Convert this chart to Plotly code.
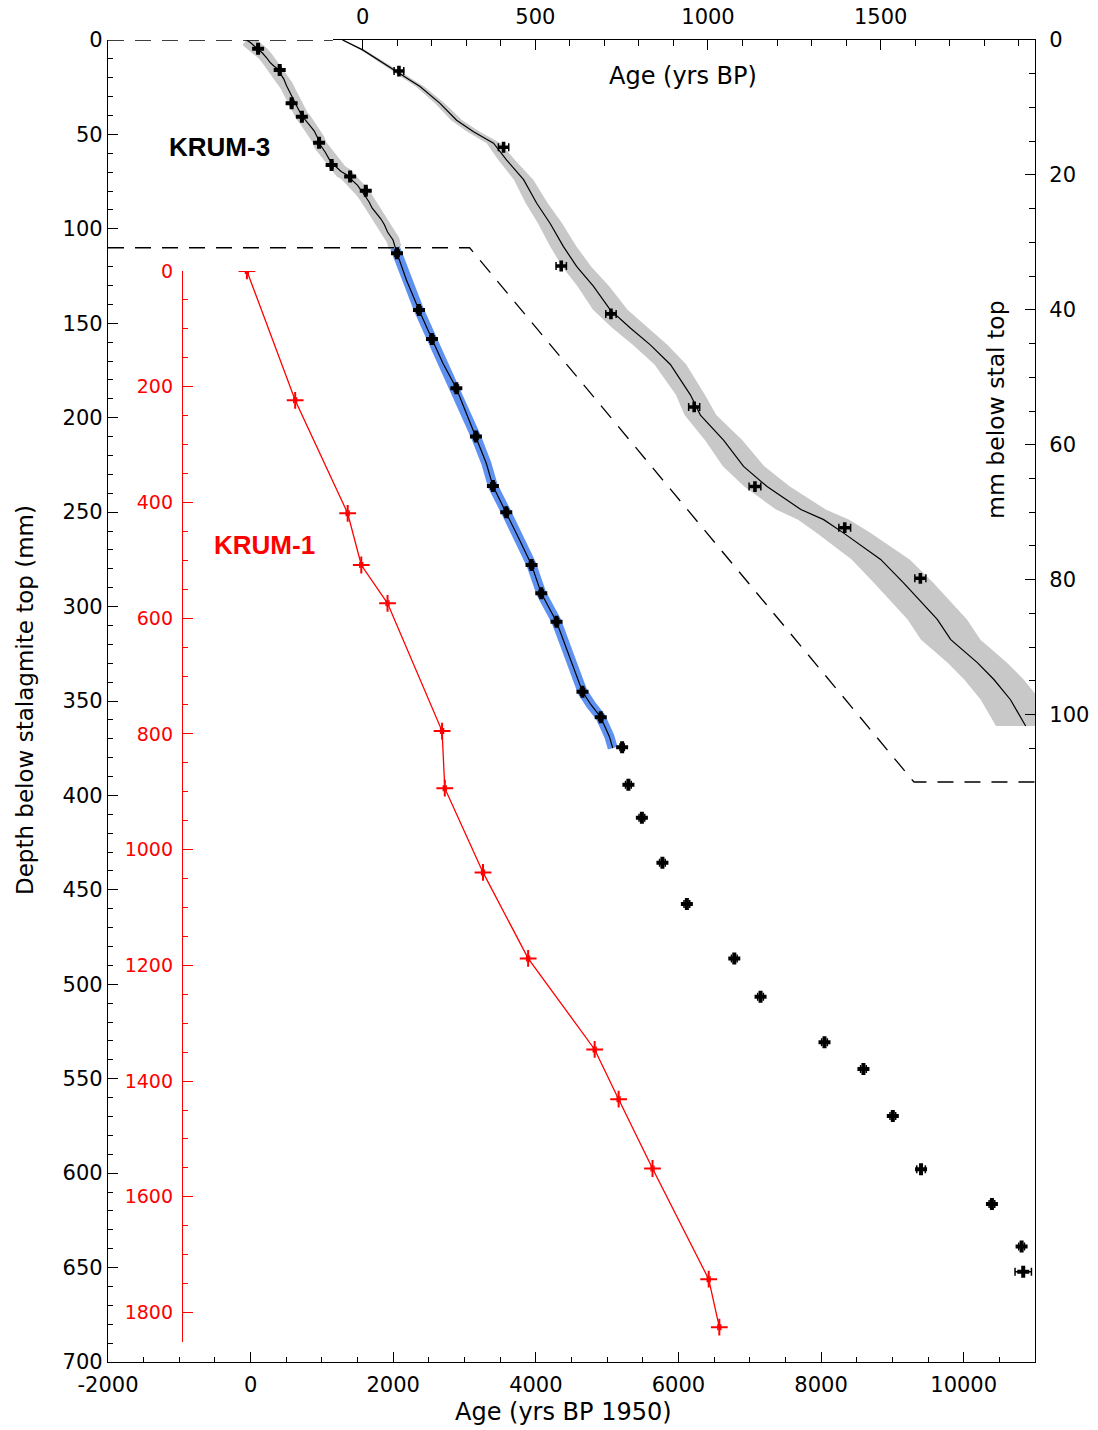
import plotly.graph_objects as go

# ---------------- KRUM-3 U-Th dates (age in yrs BP 1950, depth in mm) ----------------
k3_depth = [4.6, 15.9, 33.5, 40.6, 54.4, 66.2, 72.3, 79.8,
            112.9, 143.0, 158.3, 184.4, 210.0, 236.2, 250.1, 278.0, 293.0, 308.0,
            345.1, 358.6, 374.5, 394.3, 411.8, 435.6, 457.5, 486.4, 506.6, 530.7,
            544.8, 569.7, 598.0, 616.3, 638.9, 652.2]
k3_age = [105, 408, 575, 719, 960, 1136, 1396, 1615,
          2053, 2361, 2543, 2885, 3160, 3398, 3585, 3940, 4076, 4290,
          4654, 4910, 5210, 5298, 5487, 5775, 6118, 6783, 7151, 8048,
          8594, 9006, 9402, 10396, 10812, 10835]
k3_err = [14, 15, 15, 15, 16, 17, 17, 16,
          30, 30, 30, 30, 30, 30, 30, 30, 30, 30,
          30, 30, 30, 40, 40, 40, 40, 40, 40, 40,
          40, 40, 60, 40, 40, 115]

# ---------------- KRUM-3 age model (depth mm, age yrs BP) ----------------
k3_model_depth = [0, 1.5, 4.7, 6.9, 9.4, 11.9, 13.6, 15.3, 17.8, 20.7, 24.2, 27.2,
                  30.6, 33.6, 36.5, 40.0, 42.7, 45.2, 48.1, 52.6, 55.6, 59.3, 63.2,
                  66.2, 69.6, 71.1, 73.1, 77.0, 80.5, 83.2, 85.9, 88.9, 92.3, 94.8,
                  97.8, 101.7, 105.9, 110.0, 112.9, 127.1, 143.0, 158.3, 171.2,
                  184.4, 197.7, 210.0, 224.1, 236.2, 250.1, 264.7, 278.0, 293.0,
                  308.0, 326.5, 345.1, 352.1, 358.6, 368.9, 375.0]
k3_model_age = [-58, 1, 99, 166, 224, 272, 321, 379, 417, 466, 504, 543,
                581, 620, 668, 717, 775, 833, 891, 949, 978, 1045, 1103,
                1171, 1269, 1335, 1393, 1500, 1567, 1615, 1664, 1703, 1780, 1828,
                1876, 1920, 1997, 2025, 2053, 2185, 2361, 2543, 2697,
                2885, 3025, 3160, 3305, 3398, 3585, 3772, 3940, 4076,
                4290, 4472, 4654, 4776, 4910, 5032, 5078]
# half-width (yrs) of the uncertainty envelope for the upper 101.7 mm
k3_band_half = [5, 6, 10, 12, 14, 16, 18, 20, 24, 28, 32, 35,
                38, 42, 46, 50, 52, 50, 46, 42, 46, 54, 60,
                66, 72, 74, 78, 84, 86, 86, 86, 86, 86, 86,
                86, 86]

# ---------------- KRUM-1 (red) ----------------
k1_depth = [0, 223.5, 418.8, 508.2, 574.4, 795.2, 893.9, 1039.4, 1188.0,
            1345.4, 1431.3, 1551.1, 1742.4, 1825.4]
k1_age = [-52, 625, 1361, 1552, 1920, 2685, 2723, 3259, 3892,
          4825, 5161, 5636, 6424, 6573]

# bottom axis tick labels
age_ticks = [-2000, 0, 2000, 4000, 6000, 8000, 10000]
age_tick_text = ["-2000", "0", "2000", "4000", "6000", "8000", "10000"]

TOP_SECTION = 110.0          # mm shown in the enlarged panel
GRAY = "#c8c8c8"
BLUE = "#5f92f0"
RED = "#ff0000"
CLEAR = "rgba(0,0,0,0)"

fig = go.Figure()

# main panel: grey and blue envelopes of the age model
top_d = [d for d in k3_model_depth if d <= TOP_SECTION]
top_a = [a for d, a in zip(k3_model_depth, k3_model_age) if d <= TOP_SECTION]
low_d = [d for d in k3_model_depth if d >= TOP_SECTION - 2]
low_a = [a for d, a in zip(k3_model_depth, k3_model_age) if d >= TOP_SECTION - 2]

fig.add_trace(go.Scatter(x=top_a, y=top_d, mode="lines",
                         line=dict(color=GRAY, width=13), xaxis="x", yaxis="y"))
fig.add_trace(go.Scatter(x=low_a, y=low_d, mode="lines",
                         line=dict(color=BLUE, width=10), xaxis="x", yaxis="y"))
fig.add_trace(go.Scatter(x=k3_model_age, y=k3_model_depth, mode="lines",
                         line=dict(color="black", width=1.2), xaxis="x", yaxis="y"))
fig.add_trace(go.Scatter(
    x=k3_age, y=k3_depth, mode="markers", xaxis="x", yaxis="y",
    marker=dict(symbol="cross", size=10, color="black"),
    error_x=dict(type="data", array=k3_err, visible=True, color="black",
                 thickness=1.5, width=4)))

# KRUM-1 on its own depth scale
k1_err = [20] * len(k1_age)
fig.add_trace(go.Scatter(
    x=k1_age, y=k1_depth, mode="lines+markers", xaxis="x", yaxis="y3",
    line=dict(color=RED, width=1.3),
    marker=dict(symbol="cross-thin", size=12, color=RED, line=dict(color=RED, width=2)),
    error_x=dict(type="data", array=k1_err, visible=True, color=RED,
                 thickness=1.5, width=3)))

# enlarged panel: upper part of KRUM-3
n_in = len(k3_band_half)
in_d = k3_model_depth[:n_in]
in_a = k3_model_age[:n_in]
band_x = [a - h for a, h in zip(in_a, k3_band_half)] + \
         [a + h for a, h in zip(in_a[::-1], k3_band_half[::-1])]
band_y = in_d + in_d[::-1]
fig.add_trace(go.Scatter(x=band_x, y=band_y, mode="lines", fill="toself",
                         fillcolor=GRAY, line=dict(width=0, color=GRAY),
                         xaxis="x2", yaxis="y2"))
fig.add_trace(go.Scatter(x=in_a, y=in_d, mode="lines",
                         line=dict(color="black", width=1.2), xaxis="x2", yaxis="y2"))
sel = [i for i, d in enumerate(k3_depth) if d <= TOP_SECTION]
fig.add_trace(go.Scatter(
    x=[k3_age[i] for i in sel], y=[k3_depth[i] for i in sel], mode="markers",
    xaxis="x2", yaxis="y2",
    marker=dict(symbol="cross", size=9, color="black"),
    error_x=dict(type="data", array=[k3_err[i] for i in sel], visible=True,
                 color="black", thickness=1.5, width=4)))

# ---------------- axes ----------------
ax_common = dict(showgrid=False, zeroline=False, showline=True, linecolor="black",
                 linewidth=1.3, ticks="inside", tickcolor="black", tickwidth=1.2,
                 ticklen=10, automargin=False)

fig.update_layout(
    width=1098, height=1430,
    margin=dict(l=108, r=63, t=40, b=68, autoexpand=False),
    plot_bgcolor=CLEAR, paper_bgcolor="white", showlegend=False,
    font=dict(family="DejaVu Sans", size=21, color="black"),
    xaxis=dict(**ax_common, domain=[0, 1], anchor="y", range=[-2000, 11000],
               tickvals=age_ticks, ticktext=age_tick_text, ticklabelstandoff=4,
               minor=dict(tick0=0, dtick=500, ticks="inside", ticklen=5,
                          tickcolor="black", tickwidth=1.2)),
    yaxis=dict(**ax_common, domain=[0, 1], anchor="x", range=[700, 0],
               tick0=0, dtick=50, mirror=True,
               minor=dict(tick0=0, dtick=10, ticks="inside", ticklen=5,
                          tickcolor="black", tickwidth=1.2)),
    xaxis2=dict(**ax_common, domain=[0.2427, 1], anchor="y2", side="top",
                range=[-86, 1947], tick0=0, dtick=500, tickformat="d",
                ticklabelstandoff=6,
                minor=dict(tick0=0, dtick=100, ticks="inside", ticklen=6,
                           tickcolor="black", tickwidth=1.2)),
    yaxis2=dict(**ax_common, domain=[0.4387, 1], anchor="x2", side="right",
                range=[TOP_SECTION, 0], tick0=0, dtick=20, ticklabelstandoff=9,
                minor=dict(tick0=0, dtick=5, ticks="inside", ticklen=6,
                           tickcolor="black", tickwidth=1.2)),
    yaxis3=dict(showgrid=False, zeroline=False, showline=True, linecolor=RED,
                linewidth=1.3, ticks="inside", tickcolor=RED, tickwidth=1.2,
                ticklen=10, domain=[0.0151, 0.8253], anchor="free",
                position=0.0798, side="left", range=[1851, 0], tick0=0, dtick=200,
                tickformat="d", ticklabelstandoff=5, automargin=False,
                tickfont=dict(color=RED, size=19),
                minor=dict(tick0=0, dtick=50, ticks="inside", ticklen=5,
                           tickcolor=RED, tickwidth=1.2)),
)

# connector lines between the main panel and the enlarged panel
dash = "16px,11px"
fig.add_shape(type="line", xref="x", yref="y", x0=-2000, y0=0, x1=1153, y1=0,
              line=dict(color="black", width=1.3, dash=dash))
fig.add_shape(type="path", xref="x", yref="y",
              path="M -2000,110 L 3071,110 L 9303,392.9 L 11000,392.9",
              line=dict(color="black", width=1.3, dash=dash))

# labels
fig.add_annotation(x=-430, y=56.7, xref="x", yref="y", text="<b>KRUM-3</b>",
                   showarrow=False, font=dict(family="Liberation Sans", size=26,
                                              color="black"))
fig.add_annotation(x=200, y=267.4, xref="x", yref="y", text="<b>KRUM-1</b>",
                   showarrow=False, font=dict(family="Liberation Sans", size=26,
                                              color=RED))
fig.add_annotation(x=928, y=5.3, xref="x2", yref="y2", text="Age (yrs BP)",
                   showarrow=False, font=dict(size=24))
fig.add_annotation(x=(996 - 108) / 927, y=(1362 - 410) / 1322, xref="paper",
                   yref="paper", xanchor="center", yanchor="middle",
                   text="mm below stal top", textangle=-90,
                   showarrow=False, font=dict(size=23.5))
fig.add_annotation(x=(25 - 108) / 927, y=(1362 - 700) / 1322, xref="paper",
                   yref="paper", xanchor="center", yanchor="middle",
                   text="Depth below stalagmite top (mm)",
                   textangle=-90, showarrow=False, font=dict(size=23))
fig.add_annotation(x=(563 - 108) / 927, y=(1362 - 1412) / 1322, xref="paper",
                   yref="paper", xanchor="center", yanchor="middle",
                   text="Age (yrs BP 1950)", showarrow=False,
                   font=dict(size=24))

fig.write_html("out.html")
